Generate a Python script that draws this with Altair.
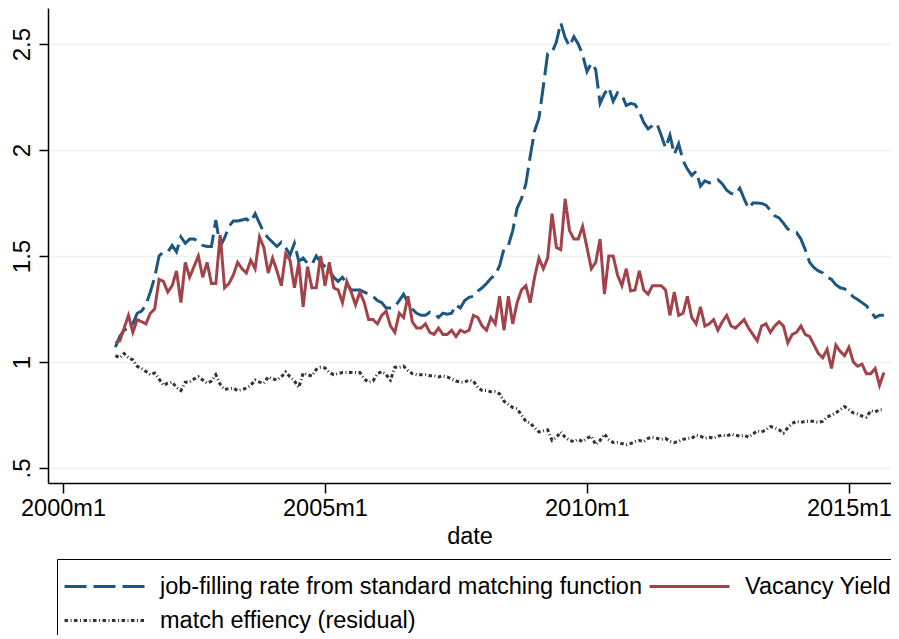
import altair as alt
import pandas as pd

# month index: 0 = 2000m1 ; data run 2001m1 (12) .. 2015m9 (188)
months = list(range(12, 189))

job_filling = (
    [1.07, 1.12, 1.15, 1.16, 1.18, 1.23, 1.24, 1.27, 1.33, 1.40, 1.50, 1.52]
    + [1.52, 1.55, 1.52, 1.59, 1.56, 1.58, 1.58, 1.57, 1.55, 1.545, 1.545, 1.67]
    + [1.545, 1.585, 1.64, 1.665, 1.665, 1.67, 1.675, 1.66, 1.70, 1.655, 1.61, 1.585]
    + [1.565, 1.545, 1.565, 1.54, 1.505, 1.56, 1.475, 1.49, 1.465, 1.46, 1.50, 1.47]
    + [1.45, 1.43, 1.40, 1.38, 1.40, 1.37, 1.34, 1.34, 1.34, 1.33, 1.32, 1.31]
    + [1.29, 1.28, 1.255, 1.255, 1.26, 1.29, 1.32, 1.28, 1.25, 1.23, 1.22, 1.22]
    + [1.235, 1.23, 1.21, 1.23, 1.225, 1.23, 1.27, 1.255, 1.29, 1.305, 1.31, 1.335]
    + [1.35, 1.37, 1.395, 1.41, 1.455, 1.535, 1.55, 1.62, 1.725, 1.77, 1.84, 1.97]
    + [2.09, 2.15, 2.30, 2.455, 2.46, 2.51, 2.60, 2.53, 2.49, 2.535, 2.50, 2.45]
    + [2.37, 2.41, 2.38, 2.22, 2.265, 2.295, 2.23, 2.27, 2.26, 2.21, 2.22, 2.215]
    + [2.18, 2.13, 2.10, 2.115, 2.125, 2.07, 2.01, 2.07, 1.98, 2.03, 1.95, 1.91]
    + [1.88, 1.90, 1.83, 1.855, 1.845, 1.85, 1.86, 1.84, 1.81, 1.795, 1.79, 1.82]
    + [1.77, 1.725, 1.75, 1.75, 1.748, 1.74, 1.715, 1.69, 1.68, 1.655, 1.627, 1.615]
    + [1.61, 1.58, 1.53, 1.47, 1.445, 1.43, 1.42, 1.40, 1.39, 1.365, 1.35, 1.345]
    + [1.33, 1.307, 1.295, 1.28, 1.265, 1.24, 1.21, 1.22, 1.22]
)

vacancy_yield = (
    [1.09, 1.10, 1.16, 1.22, 1.14, 1.20, 1.19, 1.18, 1.23, 1.25, 1.39, 1.38]
    + [1.33, 1.36, 1.43, 1.28, 1.47, 1.40, 1.45, 1.50, 1.40, 1.47, 1.37, 1.37]
    + [1.60, 1.35, 1.37, 1.41, 1.47, 1.44, 1.42, 1.48, 1.44, 1.59, 1.54, 1.42]
    + [1.49, 1.43, 1.36, 1.51, 1.48, 1.35, 1.47, 1.26, 1.45, 1.35, 1.35, 1.50]
    + [1.36, 1.47, 1.35, 1.34, 1.28, 1.38, 1.33, 1.27, 1.33, 1.28, 1.20, 1.20]
    + [1.18, 1.22, 1.24, 1.17, 1.14, 1.23, 1.21, 1.31, 1.19, 1.16, 1.16, 1.18]
    + [1.14, 1.13, 1.16, 1.13, 1.13, 1.15, 1.12, 1.15, 1.14, 1.15, 1.22, 1.21]
    + [1.17, 1.15, 1.21, 1.18, 1.31, 1.15, 1.31, 1.18, 1.28, 1.34, 1.36, 1.28]
    + [1.40, 1.49, 1.44, 1.49, 1.70, 1.54, 1.53, 1.77, 1.62, 1.58, 1.58, 1.64]
    + [1.54, 1.44, 1.47, 1.58, 1.32, 1.50, 1.50, 1.41, 1.36, 1.44, 1.335, 1.34]
    + [1.43, 1.34, 1.32, 1.36, 1.36, 1.36, 1.34, 1.22, 1.33, 1.22, 1.23, 1.31]
    + [1.21, 1.18, 1.26, 1.17, 1.18, 1.20, 1.15, 1.19, 1.22, 1.17, 1.16, 1.18]
    + [1.20, 1.16, 1.13, 1.10, 1.17, 1.18, 1.14, 1.17, 1.19, 1.17, 1.09, 1.13]
    + [1.14, 1.17, 1.13, 1.12, 1.08, 1.04, 1.02, 1.06, 0.97, 1.08, 1.05, 1.03]
    + [1.07, 1.00, 0.98, 0.99, 0.945, 0.945, 0.97, 0.89, 0.95]
)

match_efficiency = (
    [1.03, 1.02, 1.04, 1.02, 1.01, 0.98, 0.97, 0.955, 0.94, 0.948, 0.92, 0.89]
    + [0.90, 0.905, 0.88, 0.865, 0.905, 0.905, 0.92, 0.93, 0.915, 0.90, 0.91, 0.94]
    + [0.895, 0.87, 0.875, 0.877, 0.865, 0.87, 0.877, 0.89, 0.915, 0.905, 0.90, 0.93]
    + [0.92, 0.915, 0.93, 0.953, 0.93, 0.91, 0.88, 0.948, 0.94, 0.934, 0.965, 0.975]
    + [0.972, 0.95, 0.94, 0.945, 0.95, 0.95, 0.95, 0.95, 0.95, 0.92, 0.905, 0.91]
    + [0.945, 0.955, 0.94, 0.915, 0.975, 0.975, 0.98, 0.96, 0.945, 0.94, 0.94, 0.94]
    + [0.935, 0.935, 0.93, 0.935, 0.93, 0.92, 0.91, 0.905, 0.905, 0.915, 0.91, 0.88]
    + [0.865, 0.865, 0.86, 0.86, 0.85, 0.815, 0.80, 0.785, 0.78, 0.75, 0.72, 0.712]
    + [0.69, 0.67, 0.675, 0.68, 0.63, 0.645, 0.67, 0.645, 0.63, 0.625, 0.635, 0.625]
    + [0.64, 0.65, 0.61, 0.63, 0.66, 0.635, 0.62, 0.62, 0.615, 0.61, 0.615, 0.625]
    + [0.63, 0.625, 0.64, 0.645, 0.64, 0.635, 0.64, 0.625, 0.62, 0.625, 0.635, 0.64]
    + [0.64, 0.655, 0.65, 0.64, 0.645, 0.64, 0.65, 0.655, 0.65, 0.66, 0.655, 0.65]
    + [0.655, 0.645, 0.66, 0.675, 0.67, 0.68, 0.695, 0.69, 0.68, 0.665, 0.69, 0.71]
    + [0.72, 0.715, 0.72, 0.72, 0.72, 0.715, 0.72, 0.74, 0.75, 0.76, 0.775, 0.79]
    + [0.775, 0.76, 0.755, 0.745, 0.74, 0.77, 0.765, 0.775, 0.775]
)

JOB = "job-filling rate from standard matching function"
VAC = "Vacancy Yield"
MATCH = "match effiency (residual)"

# legend fills column by column: col 1 = JOB, MATCH ; col 2 = VAC
legend_order = [JOB, MATCH, VAC]
legend_colors = ["#1c5781", "#333333", "#a2434a"]
legend_dashes = [[22, 7], [3.5, 2.5, 1, 2.5], [1, 0]]
draw_order = [JOB, VAC, MATCH]

y_ticks = [0.5, 1, 1.5, 2, 2.5]
x_ticks = [0, 60, 120, 180]

rows = []
for name, vals in zip([JOB, VAC, MATCH], [job_filling, vacancy_yield, match_efficiency]):
    for m, v in zip(months, vals):
        rows.append({"month": m, "value": v, "series": name})
df = pd.DataFrame(rows)

FONT = "Liberation Sans"

x_enc = alt.X(
    "month:Q",
    scale=alt.Scale(domain=[-3.435, 189.63], nice=False, zero=False),
    axis=alt.Axis(
        values=x_ticks,
        labelExpr="(2000 + datum.value / 12) + 'm1'",
        title="date",
        grid=False,
        tickSize=10,
        labelPadding=3,
        titlePadding=5,
        labelFlush=False,
        labelFontSize=23.5,
    ),
)
y_enc = alt.Y(
    "value:Q",
    scale=alt.Scale(domain=[0.4292, 2.670], nice=False, zero=False),
    axis=alt.Axis(
        values=y_ticks,
        labelExpr="datum.value == 0.5 ? '.5' : format(datum.value, '~g')",
        title=None,
        grid=True,
        labelAngle=270,
        labelAlign="center",
        labelBaseline="bottom",
        labelPadding=5,
        tickSize=9,
    ),
)
color_enc = alt.Color(
    "series:N",
    scale=alt.Scale(domain=legend_order, range=legend_colors),
    title=" ",
)
dash_enc = alt.StrokeDash(
    "series:N",
    scale=alt.Scale(domain=legend_order, range=legend_dashes),
    title=" ",
)

layers = []
for name in draw_order:
    layers.append(
        alt.Chart(df)
        .transform_filter(alt.datum.series == name)
        .mark_line(strokeWidth=3)
        .encode(x=x_enc, y=y_enc, color=color_enc, strokeDash=dash_enc)
    )

chart = (
    alt.layer(*layers)
    .properties(
        width=843,
        height=475,
        autosize=alt.AutoSizeParams(type="none"),
        padding={"left": 40, "top": 0, "right": 0, "bottom": 152},
    )
    .configure_view(stroke=None)
    .configure_axis(
        labelFont=FONT,
        titleFont=FONT,
        labelFontSize=24,
        titleFontSize=23.5,
        titleFontWeight="normal",
        labelColor="black",
        titleColor="black",
        domainColor="black",
        tickColor="black",
        domainWidth=1.5,
        tickWidth=1.5,
        gridColor="#eaf2f3",
        gridWidth=1.5,
    )
    .configure_legend(
        orient="none",
        legendX=9,
        legendY=551,
        columns=2,
        labelFont=FONT,
        labelFontSize=23.5,
        labelColor="black",
        labelLimit=700,
        labelOffset=14,
        titleFontSize=9.5,
        titlePadding=0,
        symbolType="stroke",
        symbolSize=6400,
        symbolStrokeWidth=3,
        clipHeight=24,
        rowPadding=10,
        columnPadding=6,
        padding=6,
        strokeColor="black",
        fillColor="white",
    )
)

chart.save("out.html", embed_options={"renderer": "svg", "actions": False})
